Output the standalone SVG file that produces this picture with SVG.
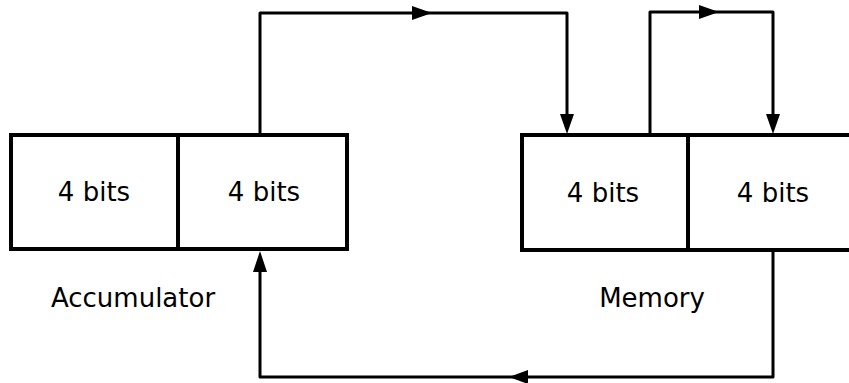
<svg xmlns="http://www.w3.org/2000/svg" width="849" height="383" viewBox="0 0 849 383">
<style>
.box{fill:#fff;stroke:#000;stroke-width:4;stroke-linejoin:miter}
.div{stroke:#000;stroke-width:4}
.wire{fill:none;stroke:#000;stroke-width:3;stroke-linejoin:round}
.head{fill:#000;stroke:none}
.t{font-family:"DejaVu Sans","Liberation Sans",sans-serif;font-size:26px;fill:#000;text-anchor:middle}
</style>
<rect width="849" height="383" fill="#fff"/>
<g id="connectors">
<path class="wire" d="M260,135 V13 H567 V116"/>
<polygon class="head" points="432,13 412,6 412,20"/>
<polygon class="head" points="567,134 560,114 574,114"/>
<path class="wire" d="M650,135 V12 H773 V116"/>
<polygon class="head" points="719,12 699,5 699,19"/>
<polygon class="head" points="773,134 766,114 780,114"/>
<path class="wire" d="M773,250 V377 H260 V270"/>
<polygon class="head" points="509,377 528,370 528,384"/>
<polygon class="head" points="260,251 253,272 267,272"/>
</g>
<g id="accumulator">
<rect class="box" x="11" y="135" width="336" height="114"/>
<line class="div" x1="178" y1="135" x2="178" y2="249"/>
<text class="t" x="94" y="201">4 bits</text>
<text class="t" x="264" y="201">4 bits</text>
<text class="t" x="133" y="307">Accumulator</text>
</g>
<g id="memory">
<path class="box" d="M860,135 H522 V250 H860"/>
<line class="div" x1="688" y1="135" x2="688" y2="250"/>
<text class="t" x="603" y="202">4 bits</text>
<text class="t" x="773" y="202">4 bits</text>
<text class="t" x="652" y="307">Memory</text>
</g>
</svg>
